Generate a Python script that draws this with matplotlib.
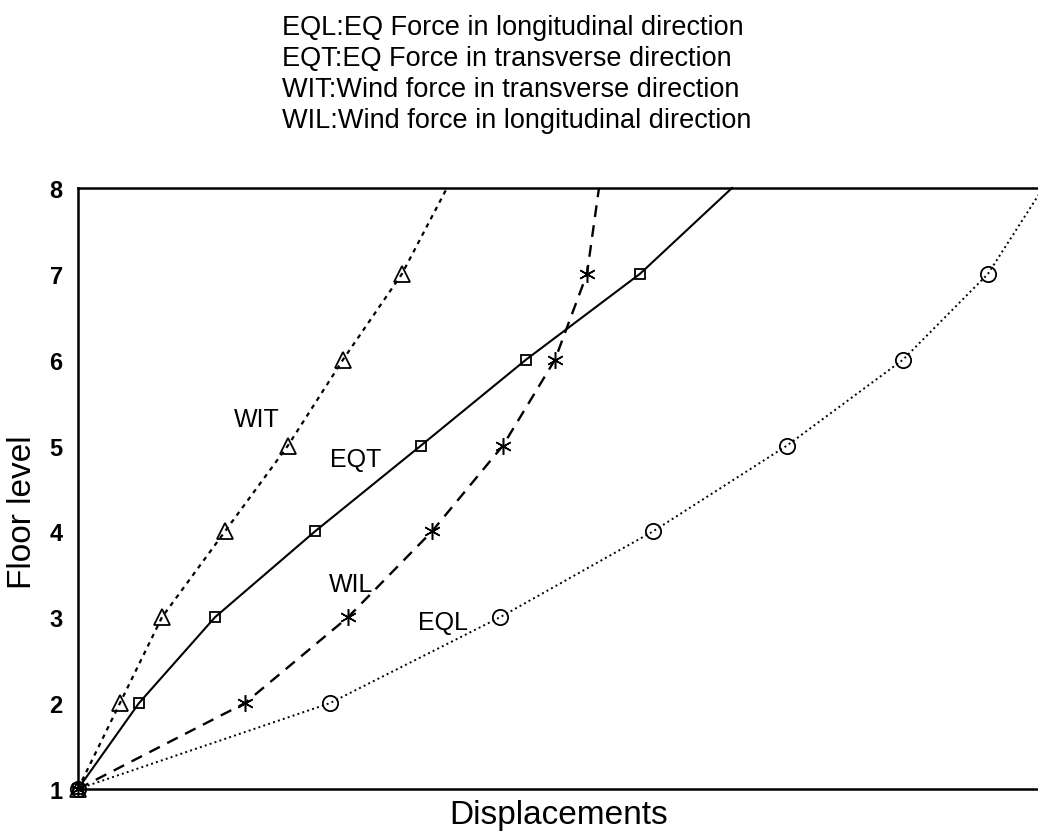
import matplotlib.pyplot as plt

plt.rcParams['font.family'] = ['Liberation Sans', 'DejaVu Sans']

# Floor levels and displacements (arbitrary units)
floors = [1, 2, 3, 4, 5, 6, 7, 8]
wit = [0, 4.2, 8.4, 14.7, 21.0, 26.5, 32.4, 36.9]
eqt = [0, 6.1, 13.7, 23.7, 34.3, 44.8, 56.2, 65.4]
wil = [0, 16.7, 27.0, 35.4, 42.5, 47.7, 50.9, 52.1]
eql = [0, 25.2, 42.2, 57.5, 70.9, 82.5, 91.0, 96.5]

notes = ['EQL:EQ Force in longitudinal direction',
         'EQT:EQ Force in transverse direction',
         'WIT:Wind force in transverse direction',
         'WIL:Wind force in longitudinal direction']

fig = plt.figure(figsize=(10.38, 8.37), dpi=100)
ax = fig.add_axes([0.0751, 0.0562, 0.9249, 0.718])

marks = list(range(7))  # no marker at the top floor
ax.plot(wit, floors, color='black', lw=1.6, dashes=(2, 2.2), marker='^', ms=12,
        mfc='none', mec='black', mew=1.3, markevery=marks, clip_on=False)
ax.plot(eqt, floors, color='black', lw=1.5, ls='-', marker='s', ms=7,
        mfc='none', mec='black', mew=1.3, markevery=marks, clip_on=False)
ax.plot(wil, floors, color='black', lw=1.7, dashes=(5, 3.5), marker=(6, 2, 0), ms=12,
        mec='black', mew=1.1, markevery=marks, clip_on=False)
ax.plot(eql, floors, color='black', lw=1.4, ls=':', marker='o', ms=11,
        mfc='none', mec='black', mew=1.3, markevery=marks, clip_on=False)

# curve labels
ax.text(17.9, 5.31, 'WIT', fontsize=18, ha='center', va='center')
ax.text(27.8, 4.84, 'EQT', fontsize=18, ha='center', va='center')
ax.text(27.3, 3.39, 'WIL', fontsize=18, ha='center', va='center')
ax.text(36.5, 2.94, 'EQL', fontsize=18, ha='center', va='center')

ax.set_xlim(0, 96)
ax.set_ylim(1, 8)
ax.set_yticks(floors)
ax.set_yticklabels([str(f) for f in floors], fontsize=17, fontweight='bold')
ax.set_xticks([])
ax.tick_params(axis='y', length=0, pad=11)
ax.spines['right'].set_visible(False)
for s in ['left', 'top', 'bottom']:
    ax.spines[s].set_linewidth(1.8)

fig.text(0.022, 1 - 512 / 837, 'Floor level', fontsize=24, rotation=90, ha='center', va='center')
fig.text(0.538, 0.026, 'Displacements', fontsize=24, ha='center', va='center')

for i, line in enumerate(notes):
    fig.text(0.2717, 1 - (28 + 31 * i) / 837, line, fontsize=19.5, ha='left', va='center')

fig.savefig('out.png', dpi=100)
